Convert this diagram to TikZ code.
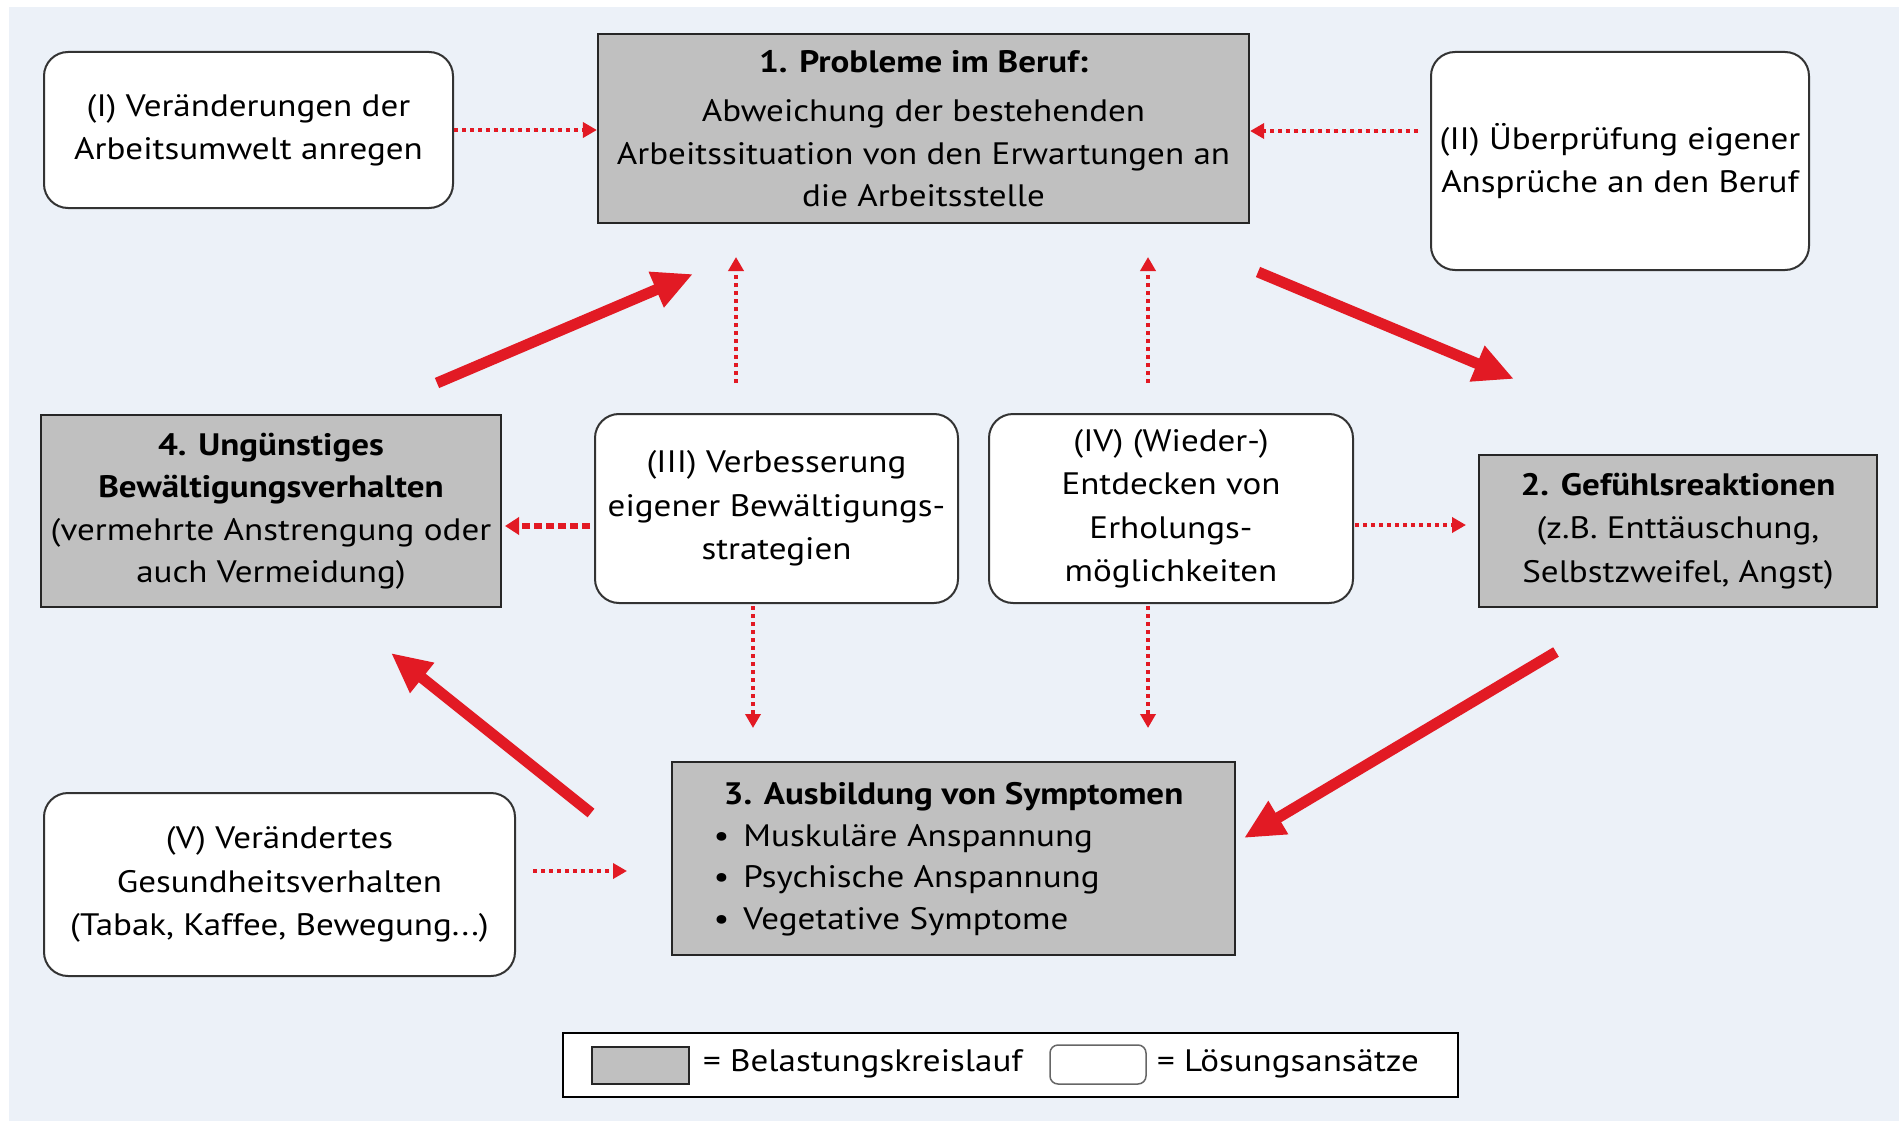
\documentclass[tikz,border=0pt]{standalone}
\usepackage{fontspec}
\setmainfont{PT Sans}[FakeStretch=1.13]
\usetikzlibrary{arrows.meta,calc}
\definecolor{bgblue}{RGB}{236,241,248}
\definecolor{boxgrey}{RGB}{192,192,192}
\definecolor{arrred}{RGB}{226,26,36}
\begin{document}
\begin{tikzpicture}[x=1pt,y=-1pt,
  every node/.style={font=\fontsize{31}{43.5}\selectfont, inner sep=0pt},
  greybox/.style={draw=black!85, line width=2.2pt, fill=boxgrey, rectangle, align=center},
  solbox/.style={draw=black!80, line width=2pt, fill=white, rounded corners=24pt, align=center},
  dotarrow/.style={draw=arrred, line width=4pt, dash pattern=on 4pt off 4pt, -{Triangle[length=14pt,width=15pt]}},
  dasharrow/.style={draw=arrred, line width=6pt, dash pattern=on 8pt off 4pt, -{Triangle[length=14pt,width=17pt]}},
  bigarrow/.style={draw=arrred, line width=11pt, -{Triangle[length=40pt,width=36pt]}},
  legtext/.style={anchor=west, font=\fontsize{31}{40}\selectfont},
]
\useasboundingbox (0,0) rectangle (1899,1121);
\fill[white] (0,0) rectangle (1899,1121);
\fill[bgblue] (9,7) rectangle (1899,1121);

% main boxes
\node[greybox, minimum width=651pt, minimum height=189pt, font=\fontsize{31}{42.5}\selectfont] (b1) at (923.5,128.5)
  {\textbf{1. Probleme im Beruf:}\\[7pt]
   Abweichung der bestehenden\\ Arbeitssituation von den Erwartungen an\\ die Arbeitsstelle};
\node[greybox, minimum width=398pt, minimum height=152pt] (b2) at (1678,531)
  {\textbf{2. Gefühlsreaktionen}\\ (z.B. Enttäuschung,\\ Selbstzweifel, Angst)};
\node[greybox, minimum width=563pt, minimum height=193pt] (b3) at (953.5,858.5)
  {\begin{tabular}{@{}l@{}}
   \textbf{3. Ausbildung von Symptomen}\\[-2pt]
   \hspace{-10pt}•\hspace{14pt}Muskuläre Anspannung\\[-2pt]
   \hspace{-10pt}•\hspace{14pt}Psychische Anspannung\\[-2pt]
   \hspace{-10pt}•\hspace{14pt}Vegetative Symptome
   \end{tabular}};
\node[greybox, minimum width=460pt, minimum height=192pt, font=\fontsize{31}{42.5}\selectfont] (b4) at (271,511)
  {\textbf{4. Ungünstiges}\\ \textbf{Bewältigungsverhalten}\\ (vermehrte Anstrengung oder\\ auch Vermeidung)};

% solution boxes
\node[solbox, minimum width=409pt, minimum height=156pt] (bI) at (248.5,130)
  {(I) Veränderungen der\\ Arbeitsumwelt anregen};
\node[solbox, minimum width=378pt, minimum height=218pt] (bII) at (1620,161)
  {(II) Überprüfung eigener\\ Ansprüche an den Beruf};
\node[solbox, minimum width=363pt, minimum height=189pt] (bIII) at (776.5,508.5)
  {(III) Verbesserung\\ eigener Bewältigungs-\\ strategien};
\node[solbox, minimum width=364pt, minimum height=189pt] (bIV) at (1171,508.5)
  {(IV) (Wieder-)\\ Entdecken von\\ Erholungs-\\ möglichkeiten};
\node[solbox, minimum width=471pt, minimum height=183pt] (bV) at (279.5,884.5)
  {(V) Verändertes\\ Gesundheitsverhalten\\ (Tabak, Kaffee, Bewegung...)};

% red cycle arrows
\coordinate (r41s) at (437,383);  \coordinate (r41e) at (693,274);
\coordinate (r12s) at (1258,272); \coordinate (r12e) at (1514,379);
\coordinate (r23s) at (1556,652); \coordinate (r23e) at (1244,838);
\coordinate (r34s) at (591,813);  \coordinate (r34e) at (391,653);
\draw[bigarrow] (r41s) -- (r41e);
\draw[bigarrow] (r12s) -- (r12e);
\draw[bigarrow] (r23s) -- (r23e);
\draw[bigarrow] (r34s) -- (r34e);

% dotted arrows
\coordinate (dIIs) at (1418,131);
\coordinate (d3us) at (736,383);  \coordinate (d3ue) at (736,257);
\coordinate (d4us) at (1148,383); \coordinate (d4ue) at (1148,257);
\coordinate (d3ds) at (753,606);  \coordinate (d3de) at (753,728);
\coordinate (d4ds) at (1148,606); \coordinate (d4de) at (1148,728);
\coordinate (d34s) at (590,526);  \coordinate (d34e) at (505,526);
\coordinate (d42s) at (1355,525); \coordinate (d42e) at (1466,525);
\coordinate (dVs) at (533,871);   \coordinate (dVe) at (627,871);
\draw[dotarrow] (bI.east) -- (bI.east -| b1.west);
\draw[dotarrow] (dIIs) -- (dIIs -| b1.east);
\draw[dotarrow] (d3us) -- (d3ue);
\draw[dotarrow] (d4us) -- (d4ue);
\draw[dotarrow] (d3ds) -- (d3de);
\draw[dotarrow] (d4ds) -- (d4de);
\draw[dasharrow] (d34s) -- (d34e);
\draw[dotarrow] (d42s) -- (d42e);
\draw[dotarrow] (dVs) -- (dVe);

% legend
\node[draw=black, line width=2pt, fill=white, minimum width=895pt, minimum height=64pt] (leg) at (1010.5,1065) {};
\node[draw=black!85, line width=2pt, fill=boxgrey, minimum width=97pt, minimum height=37pt] (legg) at (640.5,1065.5) {};
\node[legtext] (legt1) at (703,1064) {= Belastungskreislauf};
\node[draw=black!60, line width=1.5pt, fill=white, rounded corners=8pt, minimum width=96pt, minimum height=39pt] (legw) at (1098,1064.5) {};
\node[legtext] (legt2) at (1157,1064) {= Lösungsansätze};
\end{tikzpicture}
\end{document}
